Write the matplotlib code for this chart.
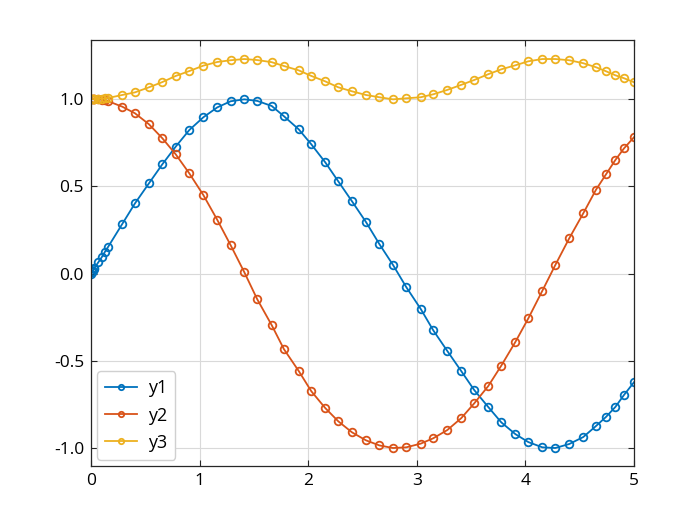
import matplotlib
matplotlib.use("Agg")
import matplotlib.pyplot as plt
from matplotlib.ticker import FuncFormatter

plt.rcParams['font.family'] = ['Open Sans', 'DejaVu Sans']

t = [0, 0.008, 0.016, 0.024, 0.032, 0.067, 0.0985, 0.129, 0.159, 0.288, 0.405, 0.534,
     0.657, 0.780, 0.905, 1.034, 1.163, 1.286, 1.412, 1.531, 1.664, 1.777, 1.913,
     2.029, 2.157, 2.277, 2.403, 2.532, 2.655, 2.781, 2.903, 3.036, 3.152, 3.281,
     3.409, 3.529, 3.658, 3.778, 3.907, 4.027, 4.156, 4.275, 4.404, 4.533, 4.650,
     4.742, 4.828, 4.908, 5.0]

y1 = [0, 0.008, 0.016, 0.024, 0.032, 0.064, 0.093, 0.125, 0.154, 0.284, 0.402, 0.517,
      0.626, 0.727, 0.822, 0.895, 0.952, 0.987, 0.998, 0.989, 0.960, 0.901, 0.826,
      0.740, 0.637, 0.528, 0.414, 0.295, 0.169, 0.049, -0.078, -0.203, -0.326, -0.444,
      -0.559, -0.668, -0.765, -0.853, -0.920, -0.966, -0.996, -1.0, -0.977, -0.937, -0.874,
      -0.822, -0.765, -0.696, -0.623]

y2 = [1.0, 1.0, 1.0, 1.0, 0.999, 0.998, 0.996, 0.992, 0.987, 0.956, 0.918, 0.855,
      0.775, 0.683, 0.574, 0.450, 0.307, 0.162, 0.007, -0.148, -0.296, -0.434, -0.559,
      -0.675, -0.771, -0.847, -0.910, -0.956, -0.985, -1.0, -0.996, -0.975, -0.944, -0.897,
      -0.829, -0.744, -0.645, -0.528, -0.393, -0.257, -0.099, 0.048, 0.202, 0.345, 0.480,
      0.568, 0.650, 0.717, 0.781]

y3 = [1.0, 1.0, 1.0, 1.0, 1.0, 1.001, 1.002, 1.004, 1.006, 1.023, 1.038, 1.067,
      1.097, 1.132, 1.160, 1.191, 1.212, 1.222, 1.229, 1.223, 1.211, 1.189, 1.164,
      1.132, 1.101, 1.067, 1.044, 1.023, 1.010, 0.998, 1.004, 1.010, 1.027, 1.052,
      1.081, 1.109, 1.142, 1.170, 1.193, 1.216, 1.229, 1.229, 1.222, 1.205, 1.182,
      1.159, 1.136, 1.119, 1.096]

series = [("y1", y1, "#0072BD"), ("y2", y2, "#D95319"), ("y3", y3, "#EDB120")]

fig = plt.figure(figsize=(7, 5.25), dpi=100)
ax = fig.add_axes([0.13, 0.1124, 0.7757, 0.8114])

for name, y, c in series:
    ax.plot(t, y, color=c, lw=1.3, marker='o', ms=5.5, mfc='none', mew=1.3, label=name)

ax.set_xlim(0, 5)
ax.set_ylim(-1.103, 1.338)
ax.set_xticks([0, 1, 2, 3, 4, 5])
ax.set_yticks([-1.0, -0.5, 0.0, 0.5, 1.0])
ax.yaxis.set_major_formatter(FuncFormatter(lambda v, p: "%.1f" % v))
ax.grid(True, color='#d9d9d9', lw=0.8)
ax.set_axisbelow(True)
ax.tick_params(direction='in', top=True, right=True, labelsize=12.5, length=4,
               color='#262626', labelcolor='black', pad=5)
for s in ax.spines.values():
    s.set_color('#262626')
    s.set_linewidth(0.9)

ax.legend(loc='lower left', fontsize=13, frameon=True, fancybox=True,
          edgecolor='#d0d0d0', framealpha=1, handlelength=1.75, handletextpad=0.6,
          markerscale=0.7, borderaxespad=0.35, labelspacing=0.5, borderpad=0.45)

fig.savefig("out.png", dpi=100)
